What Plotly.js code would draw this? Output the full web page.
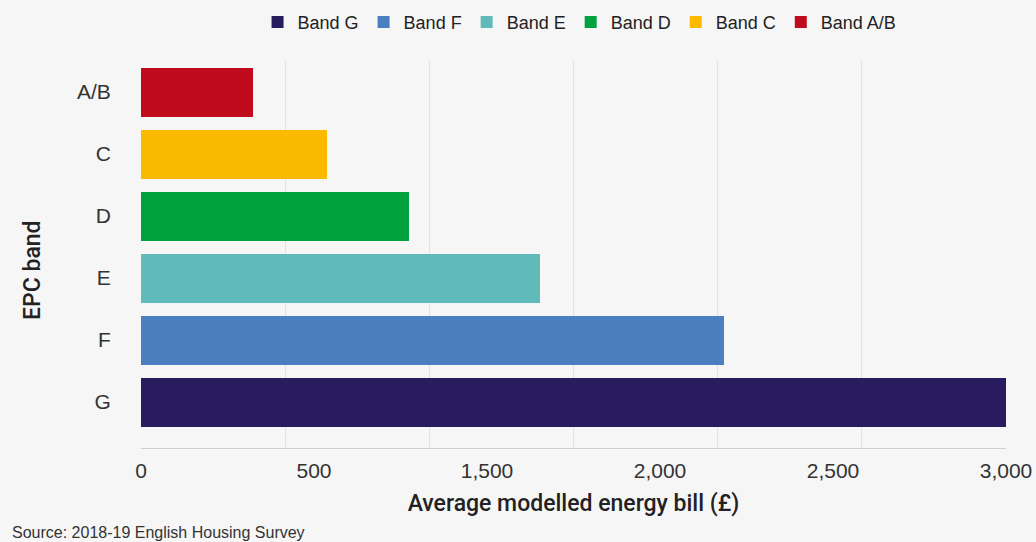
<!DOCTYPE html>
<html>
<head>
<meta charset="utf-8">
<script src="https://cdn.plot.ly/plotly-3.0.1.min.js"></script>
<style>
  html, body { margin: 0; padding: 0; background: #f6f6f6; }
  #chart { width: 1036px; height: 542px; }
</style>
</head>
<body>
<div id="chart"></div>
<script>
// Data (top-level named arrays)
const bands = ["G", "F", "E", "D", "C", "A/B"];
const legendNames = ["Band G", "Band F", "Band E", "Band D", "Band C", "Band A/B"];
const bills = [3000, 2022, 1384, 929, 645, 388];
const barColors = ["#281c5f", "#4a7fc0", "#61baba", "#00a240", "#fbba00", "#c00b1f"];
// Tick labels as printed on the reference x axis
const xTickLabels = ["0", "500", "1,500", "2,000", "2,500", "3,000"];
const xGridStep = 500;
const xMax = 3000;

const traces = bands.map((b, i) => ({
  type: "bar",
  orientation: "h",
  name: legendNames[i],
  x: [bills[i]],
  y: [b],
  marker: { color: barColors[i] },
  hoverinfo: "x+y"
}));

// invisible helper trace so the label axis exists
traces.push({
  type: "scatter", mode: "markers", x: [], y: [],
  xaxis: "x2", yaxis: "y", showlegend: false, hoverinfo: "skip"
});

const labelPositions = xTickLabels.map((_, i) => i * xMax / (xTickLabels.length - 1));

const tickFont = { family: "Liberation Sans, Arial, sans-serif", size: 21, color: "#333333" };
const titleFont = { family: "Roboto, sans-serif", size: 23, color: "#222222", weight: 500 };

const layout = {
  width: 1036,
  height: 542,
  paper_bgcolor: "#f6f6f6",
  plot_bgcolor: "#f6f6f6",
  margin: { l: 141, r: 30, t: 61, b: 94 },
  barmode: "stack",
  bargap: 0.21,
  showlegend: true,
  legend: {
    orientation: "h",
    xref: "paper", x: 0.507, xanchor: "center",
    yref: "container", y: 0.993, yanchor: "top",
    font: { family: "Liberation Sans, Arial, sans-serif", size: 18, color: "#222222" },
    traceorder: "normal",
    bgcolor: "rgba(0,0,0,0)",
    itemwidth: 30
  },
  xaxis: {
    range: [0, xMax],
    dtick: xGridStep, tick0: 0,
    showgrid: true, gridcolor: "#e2e2e2", gridwidth: 1,
    showticklabels: false,
    showline: true, linecolor: "#cfcfcf", linewidth: 1,
    zeroline: false,
    ticks: "",
    fixedrange: true,
    title: { text: "Average modelled energy bill (£)", font: titleFont, standoff: 46 }
  },
  xaxis2: {
    overlaying: "x",
    anchor: "y",
    side: "bottom",
    range: [0, xMax],
    tickmode: "array",
    tickvals: labelPositions,
    ticktext: xTickLabels,
    showgrid: false, zeroline: false, showline: false,
    ticks: "outside", ticklen: 4, tickcolor: "rgba(0,0,0,0)",
    tickfont: tickFont
  },
  yaxis: {
    type: "category",
    categoryorder: "array",
    categoryarray: bands,
    range: [-0.74, 5.5],
    showgrid: false, zeroline: false, showline: false,
    ticks: "outside", ticklen: 25, tickcolor: "rgba(0,0,0,0)",
    tickfont: tickFont,
    fixedrange: true
  },
  annotations: [
    {
      text: "EPC band",
      xref: "paper", yref: "paper",
      x: -0.1249, y: 0.46,
      xanchor: "center", yanchor: "middle",
      textangle: -90,
      showarrow: false,
      font: titleFont
    },
    {
      text: "Source: 2018-19 English Housing Survey",
      xref: "paper", yref: "paper",
      x: -0.1514, y: -0.2196,
      xanchor: "left", yanchor: "middle",
      showarrow: false,
      font: { family: "Liberation Sans, Arial, sans-serif", size: 16, color: "#333333" }
    }
  ]
};

Plotly.newPlot("chart", traces, layout, { displayModeBar: false, staticPlot: true });
</script>
</body>
</html>
